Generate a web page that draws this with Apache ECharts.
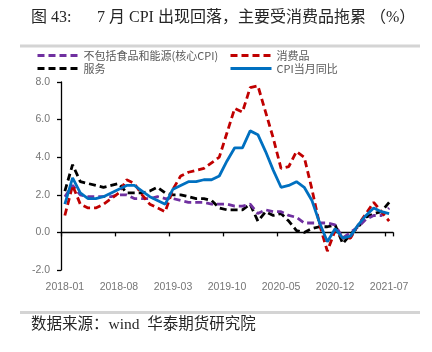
<!DOCTYPE html>
<html><head><meta charset="utf-8">
<script src="https://cdn.jsdelivr.net/npm/echarts@6/dist/echarts.min.js"></script>
<style>html,body{margin:0;padding:0;background:#fff}#c{width:432px;height:352px}</style>
</head><body><div id="c"></div>
<script>
const categories = [
  '2018-01','2018-02','2018-03','2018-04','2018-05','2018-06','2018-07','2018-08','2018-09','2018-10','2018-11','2018-12',
  '2019-01','2019-02','2019-03','2019-04','2019-05','2019-06','2019-07','2019-08','2019-09','2019-10','2019-11','2019-12',
  '2020-01','2020-02','2020-03','2020-04','2020-05','2020-06','2020-07','2020-08','2020-09','2020-10','2020-11','2020-12',
  '2021-01','2021-02','2021-03','2021-04','2021-05','2021-06','2021-07'
];
const coreCPI = [1.9,2.5,2.0,1.9,1.9,1.9,1.9,2.0,2.0,1.8,1.8,1.8, 1.9,1.8,1.8,1.7,1.6,1.6,1.6,1.5,1.5,1.5,1.4,1.4, 1.5,1.0,1.2,1.1,1.1,0.9,0.8,0.5,0.5,0.5,0.5,0.4, -0.3,0.0,0.3,0.7,0.9,0.9,1.3];
const consumerGoods = [0.9,2.5,1.5,1.3,1.3,1.5,1.8,2.1,2.8,2.6,2.0,1.5, 1.3,1.1,2.3,3.0,3.2,3.3,3.4,3.7,4.0,5.3,6.6,6.4, 7.7,7.8,6.4,5.0,3.4,3.5,4.3,4.0,2.3,0.4,-1.0,0.1, -0.3,-0.3,0.4,1.0,1.6,1.1,0.6];
const services = [2.2,3.6,2.7,2.6,2.5,2.4,2.5,2.6,2.1,2.1,2.1,2.2, 2.4,2.1,2.0,2.0,1.9,1.8,1.8,1.7,1.3,1.2,1.2,1.2, 1.5,0.6,1.1,0.9,1.0,0.6,0.1,0.0,0.2,0.3,0.3,0.4, -0.6,-0.1,0.3,0.8,1.0,1.1,1.6];
const cpiYoY = [1.5,2.9,2.1,1.8,1.8,1.9,2.1,2.3,2.5,2.5,2.2,1.9, 1.7,1.5,2.3,2.5,2.7,2.7,2.8,2.8,3.0,3.8,4.5,4.5, 5.4,5.2,4.3,3.3,2.4,2.5,2.7,2.4,1.7,0.5,-0.5,0.2, -0.3,-0.2,0.4,0.9,1.3,1.1,1.0];
const yMin = -2, yMax = 8, yStep = 2;

const names = ['不包括食品和能源(核心CPI)','消费品','服务','CPI当月同比'];
const sansCJK = '"Noto Sans CJK SC", "Noto Sans", sans-serif';
const serif = '"Liberation Serif", "Noto Sans CJK SC", serif';
const dash = [7,4];

const chart = echarts.init(document.getElementById('c'), null, {renderer:'canvas'});
const legendText = {color:'#595959', fontSize:11, fontFamily: sansCJK};
function lg(name, left, top){
  return {data:[name], left:left, top:top, itemWidth:41, itemHeight:12, padding:0,
    selectedMode:false, textStyle:legendText, lineStyle:{width:3}, itemStyle:{opacity:0}};
}
function ser(name, data, color, type){
  return {name:name, type:'line', data:data, symbol:'none', smooth:false,
    lineStyle:{color:color, width:2.8, type:type}, itemStyle:{color:color}};
}
chart.setOption({
  animation:false,
  backgroundColor:'#fff',
  grid:{left:61, right:39, top:82, bottom:82, containLabel:false},
  legend:[
    lg(names[0], 36, 50), lg(names[1], 229, 50),
    lg(names[2], 36, 63), lg(names[3], 229, 63)
  ],
  xAxis:{type:'category', data:categories, boundaryGap:true,
    axisLine:{show:true, onZero:true, lineStyle:{color:'#000', width:1.3}},
    axisTick:{show:true, interval:6, length:4, lineStyle:{color:'#000', width:1.3}},
    axisLabel:{interval:6, margin:12, color:'#767676', fontSize:10.5, fontFamily:'"Liberation Sans", sans-serif'},
    splitLine:{show:false}},
  yAxis:{type:'value', min:yMin, max:yMax, interval:yStep,
    axisLine:{show:true, lineStyle:{color:'#000', width:1.3}},
    axisTick:{show:true, length:4, lineStyle:{color:'#000', width:1.3}},
    axisLabel:{margin:11, color:'#767676', fontSize:10.5, fontFamily:'"Liberation Sans", sans-serif',
      formatter:function(v){return v.toFixed(1);}},
    splitLine:{show:false}},
  series:[
    ser(names[2], services, '#000000', dash),
    ser(names[0], coreCPI, '#7030A0', dash),
    ser(names[1], consumerGoods, '#C00000', dash),
    ser(names[3], cpiYoY, '#0070C0', 'solid')
  ],
  graphic:[
    {type:'text', x:31, y:18, style:{text:'图 43:', font:'16px '+serif, fill:'#262626', verticalAlign:'middle'}},
    {type:'text', x:97, y:18, style:{text:'7 月 CPI 出现回落，主要受消费品拖累 （%）', font:'16px '+serif, fill:'#262626', verticalAlign:'middle'}},
    {type:'rect', shape:{x:20, y:44.5, width:400, height:3}, style:{fill:'#d4d4d4'}},
    {type:'rect', shape:{x:20, y:311, width:400, height:3}, style:{fill:'#d4d4d4'}},
    {type:'text', x:31, y:325, style:{text:'数据来源：wind  华泰期货研究院', font:'15.5px '+serif, fill:'#262626', verticalAlign:'middle'}}
  ]
});
</script></body></html>
